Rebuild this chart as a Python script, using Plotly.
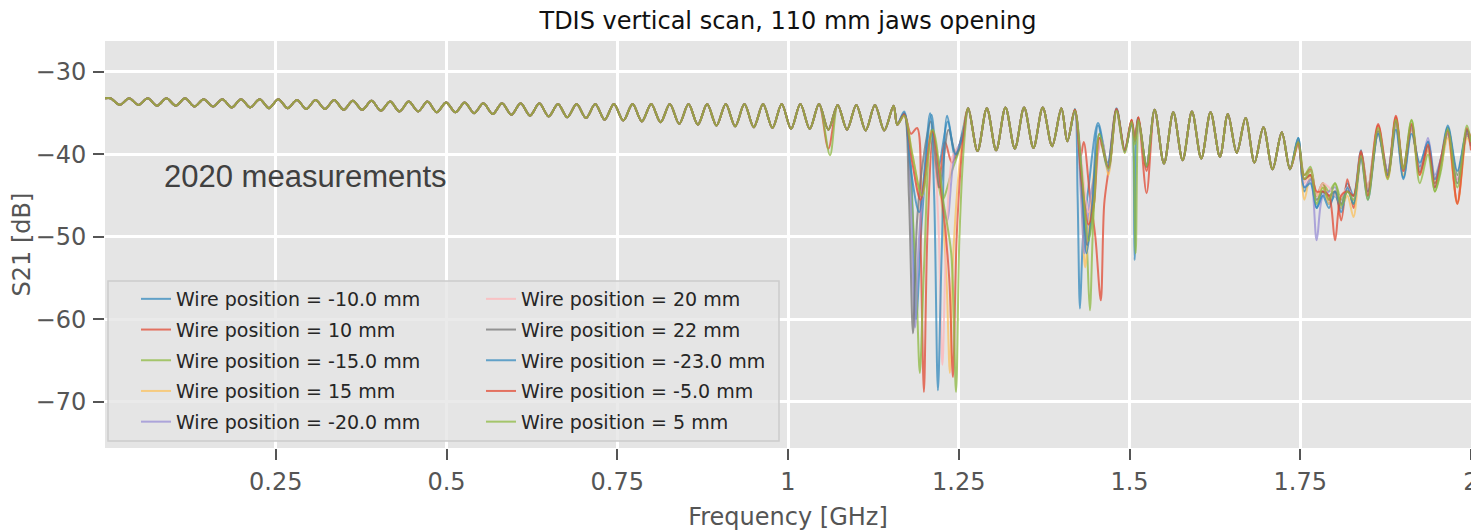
import plotly.graph_objects as go

# ── Data ──────────────────────────────────────────────────────────────────────

wire_labels = ["-10.0 mm", "10 mm", "-15.0 mm", "15 mm", "-20.0 mm",
               "20 mm", "22 mm", "-23.0 mm", "-5.0 mm", "5 mm"]

# shared part of the S21 curve (all wire positions overlap here), GHz / dB
freq_base = [
    0.0000,
    0.0080, 0.0217, 0.0353, 0.0490, 0.0626, 0.0763, 0.0899, 0.1036, 0.1172, 0.1309,
    0.1445, 0.1582, 0.1718, 0.1855, 0.1991, 0.2128, 0.2264, 0.2401, 0.2537, 0.2674,
    0.2810, 0.2947, 0.3083, 0.3220, 0.3356, 0.3493, 0.3629, 0.3766, 0.3902, 0.4039,
    0.4175, 0.4312, 0.4448, 0.4585, 0.4721, 0.4858, 0.4994, 0.5131, 0.5267, 0.5404,
    0.5540, 0.5677, 0.5813, 0.5950, 0.6086, 0.6223, 0.6359, 0.6496, 0.6632, 0.6769,
    0.6905, 0.7042, 0.7178, 0.7315, 0.7451, 0.7588, 0.7724, 0.7861, 0.7997, 0.8134,
    0.8270, 0.8407, 0.8543, 0.8680, 0.8816, 0.8953, 0.9089, 0.9226, 0.9362, 0.9499,
    0.9635, 0.9772, 0.9908, 1.0045, 1.0181, 1.0318, 1.0454, 1.0591, 1.0727, 1.0864,
    1.1000, 1.1137, 1.1273, 1.1410, 1.1546,
    1.2638, 1.2775, 1.2911, 1.3048, 1.3184, 1.3321, 1.3457, 1.3594, 1.3730, 1.3867,
    1.4003, 1.4090,
    1.5368, 1.5505, 1.5641, 1.5778, 1.5914, 1.6051, 1.6187, 1.6324, 1.6440, 1.6570,
    1.6700, 1.6830, 1.6960, 1.7095, 1.7230, 1.7350,
]
s21_base = [
    -33.2,
    -33.2, -34.0, -33.2, -34.0, -33.2, -34.1, -33.2, -34.1, -33.2, -34.2,
    -33.3, -34.2, -33.3, -34.3, -33.3, -34.3, -33.3, -34.4, -33.3, -34.4,
    -33.4, -34.5, -33.4, -34.5, -33.4, -34.6, -33.5, -34.6, -33.5, -34.7,
    -33.6, -34.8, -33.6, -34.8, -33.6, -34.9, -33.7, -34.9, -33.7, -35.0,
    -33.8, -35.1, -33.8, -35.2, -33.8, -35.3, -33.8, -35.4, -33.9, -35.5,
    -33.9, -35.6, -33.9, -35.8, -33.9, -35.9, -33.9, -36.0, -33.9, -36.1,
    -33.9, -36.3, -33.9, -36.4, -33.9, -36.5, -33.9, -36.6, -33.9, -36.7,
    -33.9, -36.8, -33.9, -36.9, -33.9, -36.9, -33.9, -37.0, -34.0, -37.0,
    -34.0, -37.1, -34.0, -37.1, -34.1,
    -34.4, -39.6, -34.4, -39.5, -34.3, -39.3, -34.3, -39.2, -34.3, -39.0,
    -34.4, -38.4,
    -34.6, -41.1, -34.9, -40.7, -34.8, -40.5, -34.9, -40.3, -35.1, -39.8,
    -35.6, -41.0, -36.7, -41.8, -37.3, -41.8,
]

# small glitches around 1.06 GHz (freq, dB)
glitch_pts = [
    [], [(1.0591, -39.3)], [(1.0615, -40.1)], [], [],
    [], [], [], [], [],
]

# first resonance pair, 1.16 - 1.26 GHz (freq, dB) per wire position
dip1_pts = [
    [(1.160, -36.4), (1.170, -35.0), (1.179, -40.0), (1.1875, -60.0), (1.196, -48.0),
     (1.210, -35.2), (1.220, -41.5), (1.234, -36.0), (1.245, -40.5), (1.256, -37.0)],
    [(1.160, -36.4), (1.170, -35.0), (1.180, -37.5), (1.189, -36.8), (1.1945, -52.0),
     (1.199, -68.8), (1.204, -50.0), (1.212, -38.0), (1.220, -44.0), (1.230, -38.5),
     (1.240, -41.0), (1.256, -37.5)],
    [(1.160, -36.4), (1.170, -35.3), (1.180, -44.0), (1.188, -56.0), (1.193, -66.5),
     (1.199, -54.0), (1.210, -37.0), (1.226, -45.5), (1.240, -42.0), (1.254, -38.6)],
    [(1.160, -36.4), (1.170, -35.3), (1.182, -40.0), (1.196, -45.0), (1.211, -37.0),
     (1.225, -46.0), (1.232, -55.0), (1.237, -66.5), (1.242, -52.0), (1.254, -39.0)],
    [(1.160, -36.4), (1.170, -35.2), (1.179, -44.0), (1.186, -61.0), (1.192, -50.0),
     (1.204, -40.0), (1.211, -37.5), (1.225, -45.0), (1.233, -48.0), (1.244, -40.0),
     (1.256, -38.0)],
    [(1.160, -36.4), (1.170, -35.3), (1.182, -41.0), (1.195, -45.5), (1.211, -37.2),
     (1.220, -48.0), (1.226, -65.5), (1.232, -50.0), (1.242, -40.0), (1.256, -38.5)],
    [(1.160, -36.4), (1.170, -35.1), (1.177, -45.0), (1.183, -61.7), (1.189, -48.0),
     (1.199, -40.0), (1.209, -36.0), (1.222, -44.0), (1.235, -37.0), (1.246, -40.0),
     (1.256, -38.0)],
    [(1.160, -36.4), (1.170, -34.8), (1.180, -42.0), (1.192, -47.0), (1.208, -35.0),
     (1.214, -45.0), (1.2195, -68.6), (1.225, -52.0), (1.233, -35.3), (1.245, -40.0),
     (1.256, -37.5)],
    [(1.160, -36.4), (1.170, -35.2), (1.182, -41.0), (1.194, -45.5), (1.211, -37.2),
     (1.225, -45.0), (1.236, -55.0), (1.2415, -67.0), (1.247, -50.0), (1.256, -38.5)],
    [(1.160, -36.4), (1.170, -35.3), (1.182, -40.0), (1.196, -45.0), (1.212, -37.0),
     (1.228, -46.0), (1.239, -52.0), (1.246, -68.8), (1.251, -50.0), (1.258, -38.5)],
]

# second resonance group, 1.42 - 1.53 GHz (freq, dB) per wire position
dip2_pts = [
    [(1.420, -34.5), (1.424, -45.0), (1.4275, -58.7), (1.432, -50.0), (1.440, -44.0),
     (1.454, -36.2), (1.468, -41.0), (1.481, -34.4), (1.493, -39.4), (1.503, -35.9),
     (1.5075, -52.8), (1.512, -35.6), (1.525, -41.2)],
    [(1.420, -34.6), (1.428, -40.5), (1.433, -38.5), (1.442, -45.0), (1.450, -50.0),
     (1.458, -57.7), (1.463, -46.0), (1.470, -41.5), (1.481, -34.5), (1.493, -39.5),
     (1.503, -35.8), (1.508, -38.0), (1.513, -35.5), (1.525, -44.7)],
    [(1.420, -34.6), (1.429, -42.0), (1.437, -50.0), (1.442, -58.9), (1.447, -48.0),
     (1.456, -38.0), (1.469, -42.0), (1.481, -34.6), (1.493, -39.6), (1.503, -36.0),
     (1.509, -52.0), (1.514, -36.0), (1.525, -41.5)],
    [(1.420, -34.7), (1.429, -44.0), (1.435, -53.7), (1.442, -47.0), (1.452, -40.0),
     (1.460, -38.5), (1.469, -42.5), (1.481, -34.8), (1.493, -39.8), (1.503, -36.1),
     (1.508, -38.6), (1.513, -35.9), (1.525, -41.6)],
    [(1.420, -34.7), (1.429, -45.0), (1.434, -52.0), (1.441, -46.0), (1.450, -42.0),
     (1.459, -38.0), (1.469, -42.0), (1.481, -34.8), (1.493, -39.7), (1.503, -36.1),
     (1.508, -38.6), (1.513, -35.9), (1.525, -41.5)],
    [(1.420, -34.7), (1.430, -41.0), (1.440, -47.0), (1.449, -44.0), (1.458, -38.0),
     (1.469, -41.8), (1.481, -34.8), (1.493, -39.7), (1.503, -36.1), (1.508, -38.5),
     (1.513, -35.9), (1.525, -41.4)],
    [(1.420, -34.6), (1.429, -43.0), (1.438, -51.0), (1.446, -45.5), (1.456, -37.5),
     (1.469, -41.7), (1.481, -34.6), (1.493, -39.6), (1.503, -36.0), (1.508, -38.4),
     (1.513, -35.7), (1.525, -41.4)],
    [(1.420, -34.8), (1.428, -40.0), (1.437, -52.0), (1.445, -47.0), (1.454, -36.5),
     (1.468, -41.5), (1.481, -34.6), (1.493, -39.6), (1.503, -36.2), (1.508, -38.5),
     (1.513, -35.8), (1.525, -41.5)],
    [(1.420, -34.6), (1.430, -43.0), (1.440, -48.5), (1.448, -46.0), (1.456, -38.0),
     (1.469, -41.6), (1.481, -34.5), (1.493, -39.5), (1.503, -35.8), (1.508, -38.3),
     (1.513, -35.5), (1.525, -42.0)],
    [(1.420, -34.7), (1.430, -42.0), (1.440, -50.5), (1.448, -46.0), (1.456, -37.5),
     (1.469, -41.8), (1.481, -34.7), (1.493, -39.8), (1.503, -36.0), (1.508, -38.8),
     (1.513, -35.8), (1.525, -41.4)],
]

# noisy upper end, 1.75 - 2.0 GHz
freq_end = [1.7470, 1.7560, 1.7650, 1.7740, 1.7830, 1.7920, 1.8010, 1.8100, 1.8190,
            1.8280, 1.8390, 1.8490, 1.8640, 1.8780, 1.8900, 1.9010, 1.9130, 1.9250,
            1.9370, 1.9470, 1.9560, 1.9660, 1.9800, 1.9940, 2.0000]
end_db = [
    [-38.0, -44.5, -43.0, -46.5, -44.5, -46.0, -45.0, -46.5, -43.5, -45.0, -39.5, -45.0, -37.5,
     -42.0, -36.5, -42.8, -37.0, -41.5, -38.4, -44.0, -41.5, -36.7, -42.5, -37.2, -38.5],
    [-38.8, -42.5, -41.8, -45.0, -43.5, -45.5, -44.5, -48.0, -43.0, -46.5, -39.6, -44.0, -36.3,
     -42.3, -35.3, -41.5, -36.8, -42.0, -39.5, -43.0, -41.0, -37.5, -45.8, -37.0, -38.0],
    [-38.2, -42.5, -41.5, -45.0, -43.5, -44.5, -43.5, -45.5, -44.0, -46.0, -40.0, -44.0, -37.0,
     -42.5, -35.8, -41.5, -35.9, -42.0, -39.0, -44.5, -42.0, -36.8, -42.5, -37.8, -38.0],
    [-38.6, -45.5, -42.5, -45.0, -44.0, -46.0, -44.5, -46.5, -45.0, -47.6, -40.5, -45.0, -37.5,
     -43.0, -36.5, -42.5, -37.0, -42.5, -39.5, -43.5, -41.5, -38.0, -46.0, -38.0, -39.0],
    [-38.3, -44.0, -43.0, -50.4, -45.0, -44.5, -44.0, -46.0, -44.0, -45.5, -40.5, -44.5, -37.5,
     -42.0, -36.2, -42.0, -36.8, -42.0, -38.0, -42.5, -40.5, -37.5, -43.0, -37.5, -38.5],
    [-38.5, -43.5, -42.0, -45.0, -43.5, -44.0, -45.0, -45.0, -44.0, -45.5, -40.0, -44.0, -37.0,
     -42.5, -36.0, -42.0, -36.5, -42.0, -39.0, -43.0, -40.5, -37.0, -43.0, -37.5, -38.5],
    [-38.4, -43.0, -42.5, -45.5, -44.5, -45.0, -44.5, -46.0, -44.5, -45.0, -40.0, -44.5, -37.2,
     -42.5, -36.0, -41.8, -36.5, -42.2, -39.0, -43.5, -41.0, -37.0, -43.5, -37.5, -38.5],
    [-38.0, -44.0, -43.5, -46.5, -45.0, -46.5, -44.5, -47.0, -44.0, -46.0, -40.5, -45.5, -37.5,
     -42.5, -37.0, -43.0, -37.5, -41.0, -38.5, -43.0, -40.5, -36.5, -42.0, -37.0, -39.0],
    [-38.6, -43.0, -42.5, -44.5, -44.5, -45.0, -50.4, -45.0, -44.5, -45.0, -39.8, -45.0, -36.5,
     -42.8, -35.5, -42.0, -36.3, -42.5, -38.8, -44.0, -40.5, -37.2, -46.0, -36.8, -39.5],
    [-38.5, -43.0, -42.0, -46.0, -44.0, -45.5, -43.5, -46.2, -44.5, -45.5, -40.2, -45.5, -36.8,
     -43.0, -35.8, -41.8, -35.8, -43.5, -40.0, -44.5, -41.5, -37.0, -44.0, -36.5, -38.5],
]

x_tickvals = [0.25, 0.5, 0.75, 1, 1.25, 1.5, 1.75, 2]
x_ticktext = ["0.25", "0.5", "0.75", "1", "1.25", "1.5", "1.75", "2"]
y_tickvals = [-70, -60, -50, -40, -30]

# ggplot-style colours, in legend order
line_colors = ["#348ABD", "#E24A33", "#8EBA42", "#FBC15E", "#988ED5",
               "#FFB5B8", "#777777", "#348ABD", "#E24A33", "#8EBA42"]


# ── Helpers ───────────────────────────────────────────────────────────────────

def build_series(blocks):
    """Merge the shared curve with a wire position's own measured segments."""
    pts = list(zip(freq_base, s21_base))
    for blk in blocks:
        if not blk:
            continue
        lo, hi = blk[0][0] - 0.004, blk[-1][0] + 0.004
        pts = [p for p in pts if not lo <= p[0] <= hi] + list(blk)
    pts.sort()
    f, v = zip(*pts)
    return list(f), list(v)


# ── Figure ────────────────────────────────────────────────────────────────────

fig = go.Figure()

for i, label in enumerate(wire_labels):
    blocks = [glitch_pts[i], dip1_pts[i], dip2_pts[i], list(zip(freq_end, end_db[i]))]
    f, v = build_series(blocks)
    fig.add_trace(go.Scatter(
        x=f, y=v, mode="lines",
        name=f"Wire position = {label}",
        line=dict(color=line_colors[i], width=2, shape="spline", smoothing=0.9),
        opacity=0.75,
        legend="legend" if i < 5 else "legend2",
        legendgroup=f"g{i}",
        hoverinfo="skip",
    ))

# the page body adds an 8 px offset, so the figure is drawn 8 px smaller
PAGE_OFF = 8
FIG_W, FIG_H = 1479 - PAGE_OFF, 532 - PAGE_OFF
PLOT_L, PLOT_R, PLOT_T, PLOT_B = 105, 1471, 41, 448   # page pixels
PW, PH = PLOT_R - PLOT_L, PLOT_B - PLOT_T


def px_x(px):
    return (px - PLOT_L) / PW


def px_y(py):
    return 1 - (py - PLOT_T) / PH


legend_style = dict(
    xanchor="left", yanchor="top",
    bgcolor="rgba(0,0,0,0)", borderwidth=0,
    font=dict(family="DejaVu Sans", size=19, color="#262626"),
    tracegroupgap=3,
)

fig.update_layout(
    width=FIG_W, height=FIG_H,
    margin=dict(l=PLOT_L - PAGE_OFF, r=1479 - PLOT_R, t=PLOT_T - PAGE_OFF,
                b=532 - PLOT_B),
    paper_bgcolor="white",
    plot_bgcolor="#E5E5E5",
    font=dict(family="DejaVu Sans", size=24, color="#555555"),
    title=dict(text="TDIS vertical scan, 110 mm jaws opening",
               x=0.5, xref="paper", xanchor="center",
               y=1, yref="container", yanchor="top",
               pad=dict(t=4),
               font=dict(family="DejaVu Sans", size=24, color="#111111")),
    showlegend=True,
    legend=dict(x=px_x(136), y=px_y(280), **legend_style),
    legend2=dict(x=px_x(481), y=px_y(280), **legend_style),
    xaxis=dict(
        range=[0, 2], tickvals=x_tickvals, ticktext=x_ticktext,
        automargin=False,
        showgrid=True, gridcolor="white", gridwidth=2.5,
        zeroline=False, showline=False,
        ticks="outside", ticklen=11, tickwidth=1.5, tickcolor="#555555",
        ticklabelstandoff=1,
        tickfont=dict(size=24, color="#555555"),
        title=dict(text="Frequency [GHz]", standoff=13,
                   font=dict(size=24, color="#555555")),
    ),
    yaxis=dict(
        range=[-75.6, -26.25], tickvals=y_tickvals,
        automargin=False,
        showgrid=True, gridcolor="white", gridwidth=2.5,
        zeroline=False, showline=False,
        ticks="outside", ticklen=11, tickwidth=1.5, tickcolor="#555555",
        ticklabelstandoff=2,
        tickfont=dict(size=24, color="#555555"),
        title=dict(text="S21 [dB]", standoff=10,
                   font=dict(size=24, color="#555555")),
    ),
    shapes=[dict(
        type="rect", xref="paper", yref="paper", layer="above",
        x0=px_x(108), x1=px_x(779), y0=px_y(441), y1=px_y(281),
        fillcolor="rgba(229,229,229,0.8)",
        line=dict(color="#CCCCCC", width=1.5),
    )],
    annotations=[dict(
        text="2020 measurements", showarrow=False,
        xref="paper", yref="paper", x=px_x(162), y=px_y(176),
        xanchor="left", yanchor="middle",
        font=dict(family="Liberation Sans", size=31, color="#404040"),
    )],
)

fig.write_html("out.html")
